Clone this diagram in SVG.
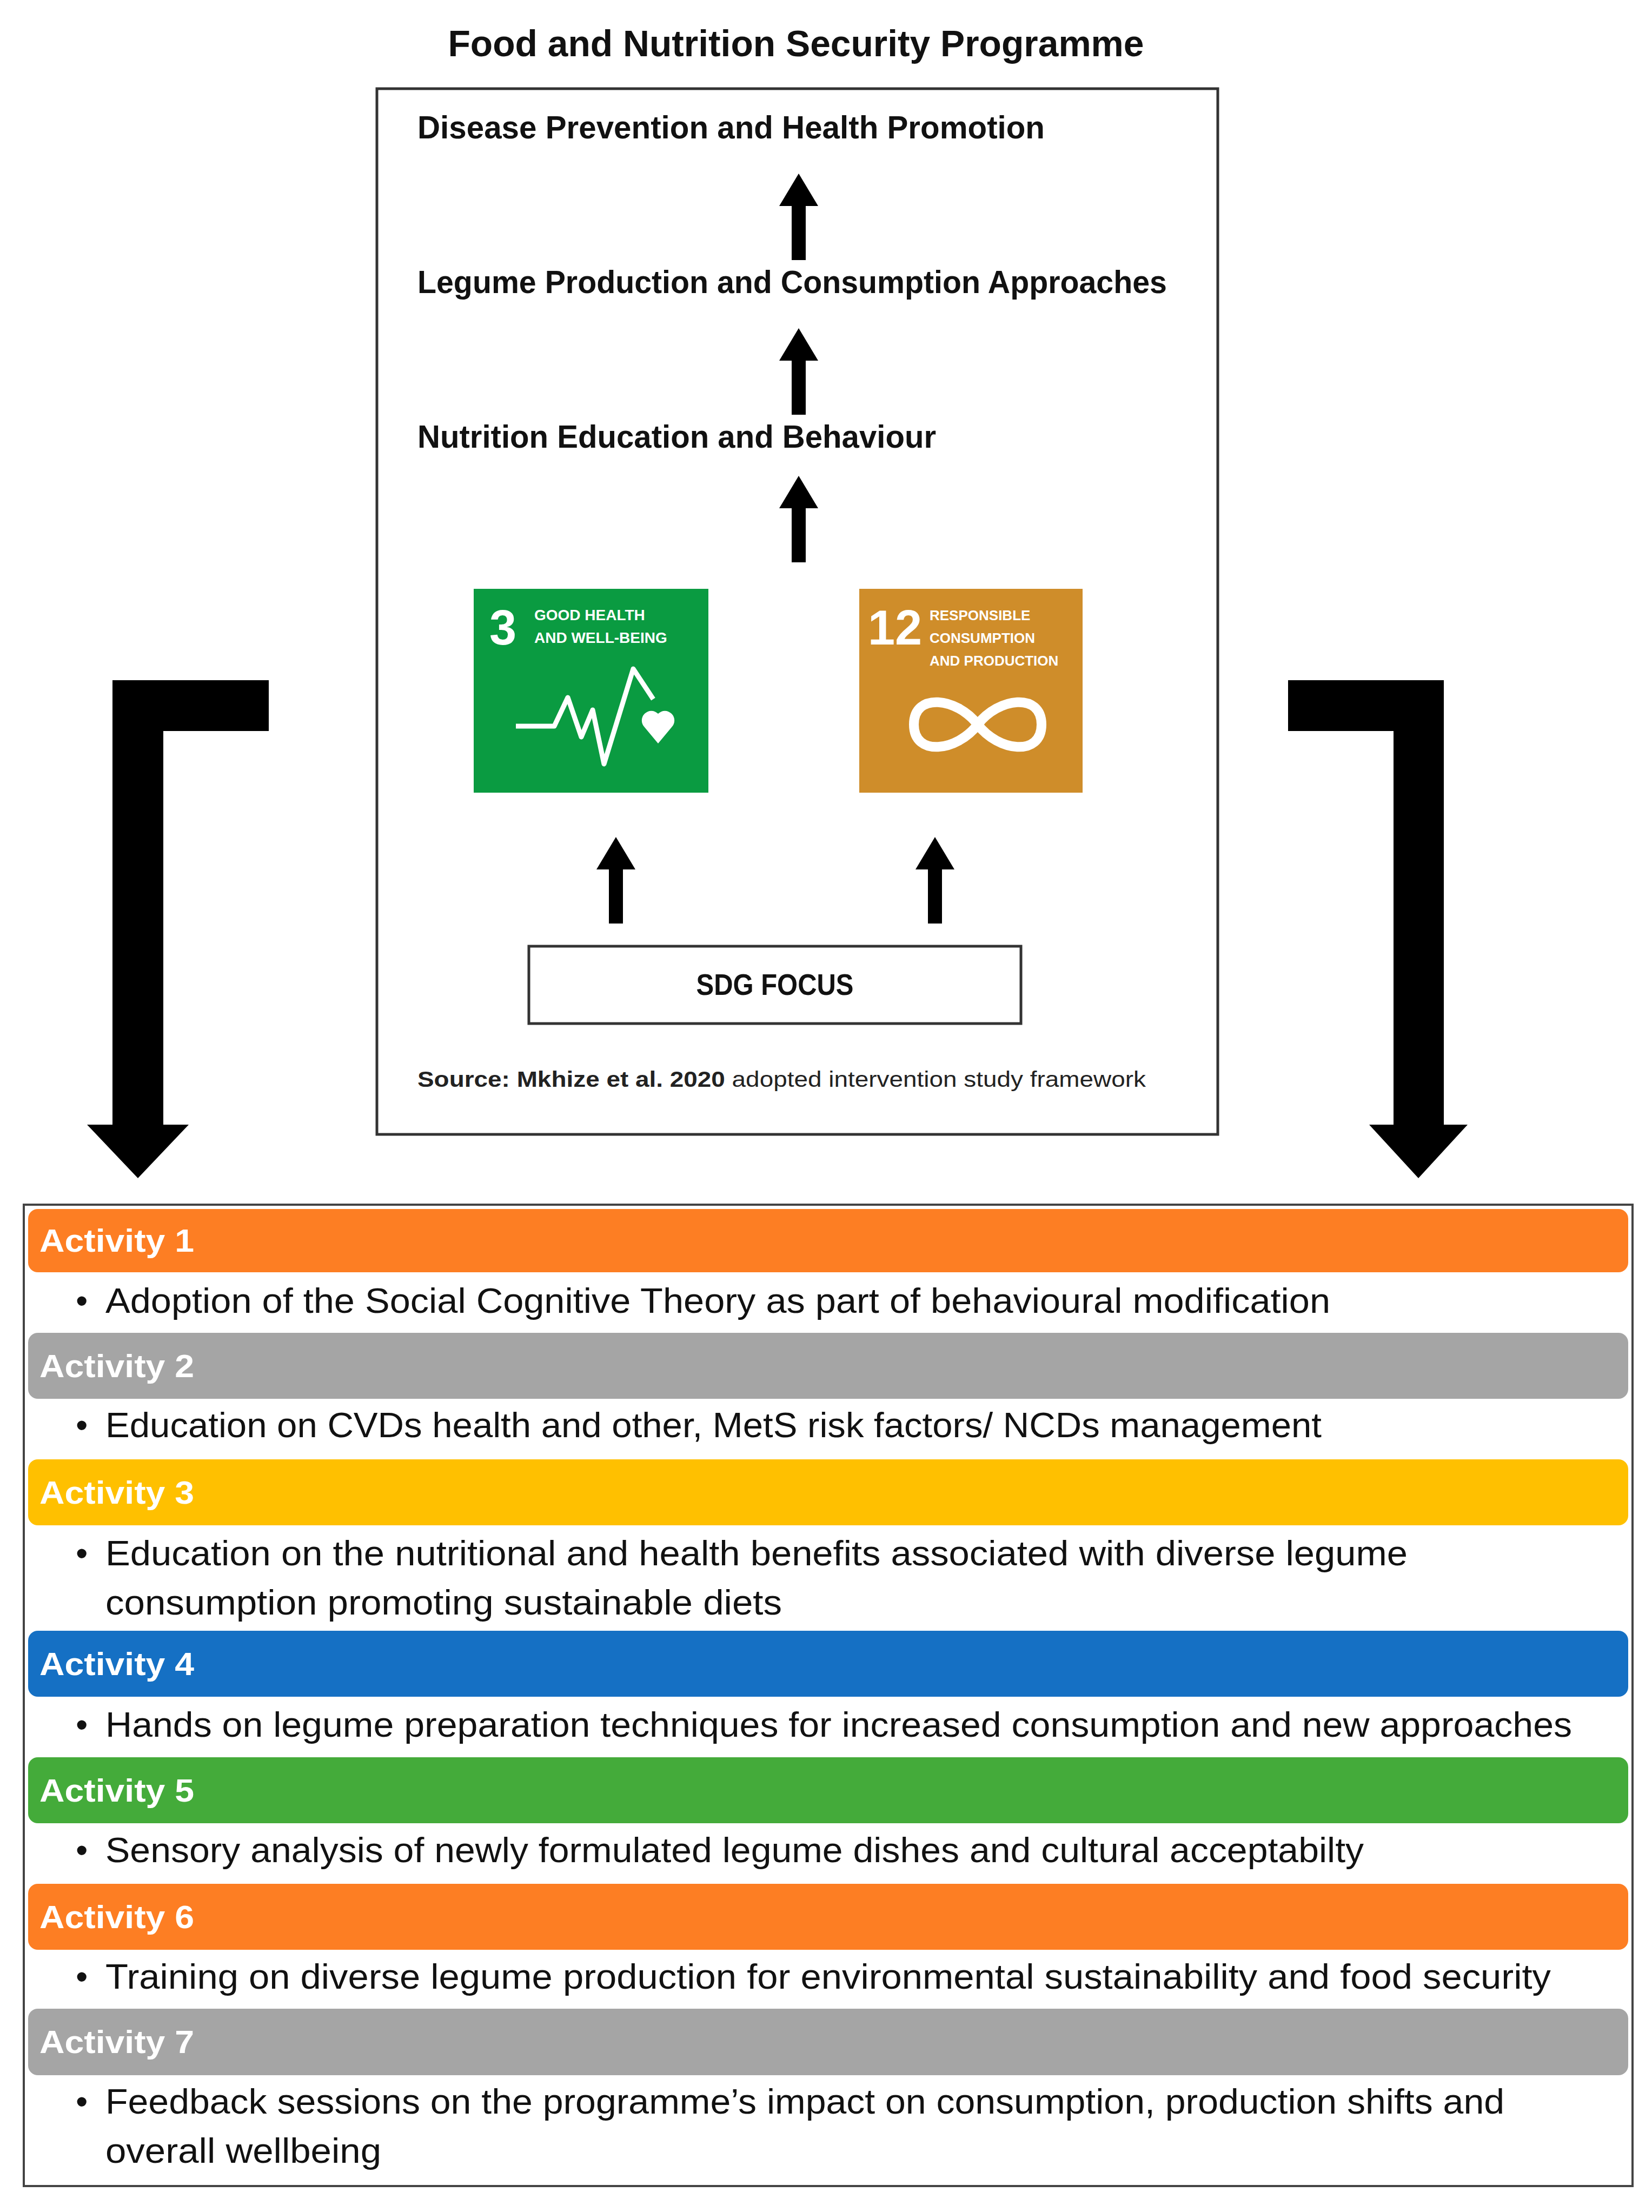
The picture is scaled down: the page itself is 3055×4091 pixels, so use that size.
<svg xmlns="http://www.w3.org/2000/svg" width="3055" height="4091" viewBox="0 0 3055 4091">
<style>
.t{font-family:"Liberation Sans",Arial,sans-serif;font-weight:bold;fill:#111}
.b{font-family:"Liberation Sans",Arial,sans-serif;fill:#111;font-size:64px}
.h{font-family:"Liberation Sans",Arial,sans-serif;font-weight:bold;fill:#fff;font-size:60px}
.i{font-family:"Liberation Sans",Arial,sans-serif;font-weight:bold;fill:#fff}
.box{fill:#fff;stroke:#333;stroke-width:5}
</style>
<defs>
<path id="up" d="M-13,0 V-100 H-36 L0,-160 L36,-100 H13 V0 Z" fill="#000"/>
</defs>
<rect width="3055" height="4091" fill="#fff"/>
<text class="t" x="1472" y="104" font-size="68" text-anchor="middle" textLength="1287" lengthAdjust="spacingAndGlyphs">Food and Nutrition Security Programme</text>
<g id="framework">
<rect class="box" x="697" y="164" width="1555" height="1934"/>
<text class="t" x="772" y="256" font-size="60" textLength="1160" lengthAdjust="spacingAndGlyphs">Disease Prevention and Health Promotion</text>
<text class="t" x="772" y="542" font-size="60" textLength="1386" lengthAdjust="spacingAndGlyphs">Legume Production and Consumption Approaches</text>
<text class="t" x="772" y="828" font-size="60" textLength="959" lengthAdjust="spacingAndGlyphs">Nutrition Education and Behaviour</text>
</g>
<g id="sdg3">
<rect x="876" y="1089" width="434" height="377" fill="#0a9b41"/>
<text class="i" x="905" y="1192" font-size="90">3</text>
<text class="i" x="988" y="1147" font-size="28">GOOD HEALTH</text>
<text class="i" x="988" y="1189" font-size="28">AND WELL-BEING</text>
<polyline points="954,1343 1025,1343 1050,1290 1075,1363 1096,1313 1117,1413 1171,1237 1208,1293" fill="none" stroke="#fff" stroke-width="9" stroke-linejoin="round"/>
<path d="M1217,1375 L1192,1345 A15,15 0 0 1 1217,1320 A15,15 0 0 1 1242,1345 Z" fill="#fff"/>
</g>
<g id="sdg12">
<rect x="1589" y="1089" width="413" height="377" fill="#cf8d2a"/>
<text class="i" x="1605" y="1192" font-size="90">12</text>
<text class="i" x="1719" y="1147" font-size="26">RESPONSIBLE</text>
<text class="i" x="1719" y="1189" font-size="26">CONSUMPTION</text>
<text class="i" x="1719" y="1231" font-size="26">AND PRODUCTION</text>
<path d="M1808,1340 C1770,1290 1690,1280 1690,1340 C1690,1400 1770,1390 1808,1340 C1846,1290 1926,1280 1926,1340 C1926,1400 1846,1390 1808,1340" fill="none" stroke="#fff" stroke-width="18"/>
</g>
<g id="sdgfocus">
<rect class="box" x="978" y="1750" width="910" height="143"/>
<text class="t" x="1433" y="1840" font-size="56" text-anchor="middle" textLength="291" lengthAdjust="spacingAndGlyphs">SDG FOCUS</text>
</g>
<text x="772" y="2010" font-family="Liberation Sans,Arial,sans-serif" font-size="40" fill="#222" textLength="1347" lengthAdjust="spacingAndGlyphs"><tspan font-weight="bold">Source: Mkhize et al. 2020</tspan> adopted intervention study framework</text>
<g id="connectors">
<use href="#up" x="1477" y="481"/>
<use href="#up" x="1477" y="767"/>
<use href="#up" x="1477" y="1040"/>
<use href="#up" x="1139" y="1708"/>
<use href="#up" x="1729" y="1708"/>
<path d="M497,1258 H208 V2080 H161 L255,2179 L349,2080 H302 V1352 H497 Z" fill="#000"/>
<path d="M2382,1258 H2670 V2080 H2714 L2623,2179 L2532,2080 H2577 V1352 H2382 Z" fill="#000"/>
</g>
<g id="activities">
<rect x="44" y="2228" width="2975" height="1815" fill="#fff" stroke="#444" stroke-width="4"/>
<rect x="52" y="2236" width="2959" height="117" rx="18" fill="#fd7e23"/>
<text class="h" x="73" y="2315" textLength="286" lengthAdjust="spacingAndGlyphs">Activity 1</text>
<text class="b" x="140" y="2428">•</text><text class="b" x="195" y="2428" textLength="2265" lengthAdjust="spacingAndGlyphs">Adoption of the Social Cognitive Theory as part of behavioural modification</text>
<rect x="52" y="2465" width="2959" height="122" rx="18" fill="#a5a5a5"/>
<text class="h" x="73" y="2547" textLength="286" lengthAdjust="spacingAndGlyphs">Activity 2</text>
<text class="b" x="140" y="2658">•</text><text class="b" x="195" y="2658" textLength="2249" lengthAdjust="spacingAndGlyphs">Education on CVDs health and other, MetS risk factors/ NCDs management</text>
<rect x="52" y="2699" width="2959" height="122" rx="18" fill="#ffc000"/>
<text class="h" x="73" y="2781" textLength="286" lengthAdjust="spacingAndGlyphs">Activity 3</text>
<text class="b" x="140" y="2895">•</text><text class="b" x="195" y="2895" textLength="2408" lengthAdjust="spacingAndGlyphs">Education on the nutritional and health benefits associated with diverse legume</text>
<text class="b" x="195" y="2986" textLength="1251" lengthAdjust="spacingAndGlyphs">consumption promoting sustainable diets</text>
<rect x="52" y="3016" width="2959" height="122" rx="18" fill="#1570c4"/>
<text class="h" x="73" y="3098" textLength="286" lengthAdjust="spacingAndGlyphs">Activity 4</text>
<text class="b" x="140" y="3212">•</text><text class="b" x="195" y="3212" textLength="2712" lengthAdjust="spacingAndGlyphs">Hands on legume preparation techniques for increased consumption and new approaches</text>
<rect x="52" y="3250" width="2959" height="122" rx="18" fill="#44ab3a"/>
<text class="h" x="73" y="3332" textLength="286" lengthAdjust="spacingAndGlyphs">Activity 5</text>
<text class="b" x="140" y="3444">•</text><text class="b" x="195" y="3444" textLength="2327" lengthAdjust="spacingAndGlyphs">Sensory analysis of newly formulated legume dishes and cultural acceptabilty</text>
<rect x="52" y="3484" width="2959" height="122" rx="18" fill="#fd7e23"/>
<text class="h" x="73" y="3566" textLength="286" lengthAdjust="spacingAndGlyphs">Activity 6</text>
<text class="b" x="140" y="3678">•</text><text class="b" x="195" y="3678" textLength="2673" lengthAdjust="spacingAndGlyphs">Training on diverse legume production for environmental sustainability and food security</text>
<rect x="52" y="3715" width="2959" height="123" rx="18" fill="#a5a5a5"/>
<text class="h" x="73" y="3797" textLength="286" lengthAdjust="spacingAndGlyphs">Activity 7</text>
<text class="b" x="140" y="3909">•</text><text class="b" x="195" y="3909" textLength="2587" lengthAdjust="spacingAndGlyphs">Feedback sessions on the programme’s impact on consumption, production shifts and</text>
<text class="b" x="195" y="4000" textLength="510" lengthAdjust="spacingAndGlyphs">overall wellbeing</text>
</g>
</svg>
